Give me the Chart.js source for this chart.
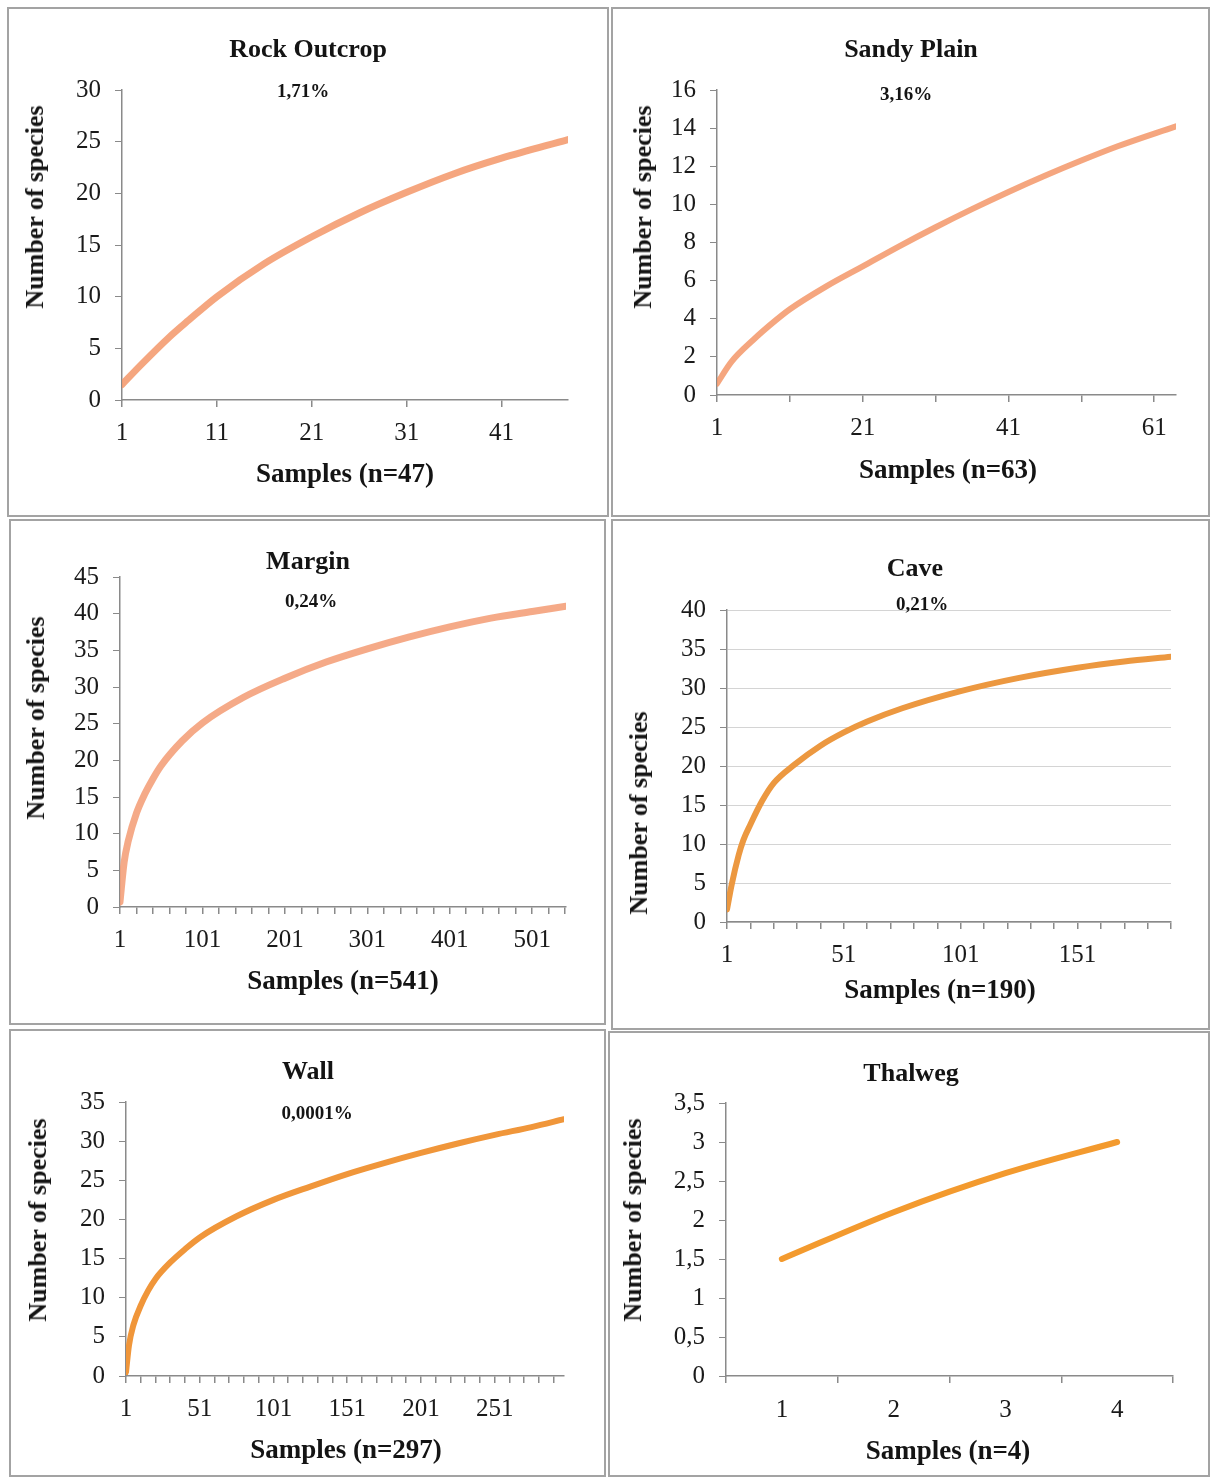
<!DOCTYPE html>
<html>
<head>
<meta charset="utf-8">
<script src="https://cdn.jsdelivr.net/npm/chart.js@4.4.0/dist/chart.umd.min.js"></script>
<style>
body { margin: 0; width: 1210px; height: 1477px; position: relative; background: #fff; overflow: hidden; font-family: "Liberation Serif", serif; color: #141414; }
.box { position: absolute; border: 2px solid #a3a3a3; box-sizing: border-box; }
canvas { position: absolute; }
.lbl { position: absolute; font-weight: bold; white-space: nowrap; transform: translate(-50%, -50%); }
.title { font-size: 26px; }
.pct { font-size: 19px; }
.xt { font-size: 27px; }
.yt { font-size: 26px; transform: translate(-50%, -50%) rotate(-90deg); }
</style>
</head>
<body>
<script>
// Rock Outcrop (n=47)
const rockSamples = [1, 3, 6, 8, 11, 16, 21, 26, 31, 36, 41, 48];
const rockSpecies = [1.5, 3.4, 6.1, 7.7, 10.0, 13.2, 15.8, 18.1, 20.1, 21.9, 23.4, 25.2];

// Sandy Plain (n=63)
const sandySamples = [1, 3, 6, 9, 11, 16, 21, 26, 31, 36, 41, 46, 51, 56, 64];
const sandySpecies = [0.6, 1.75, 2.9, 3.9, 4.5, 5.7, 6.75, 7.8, 8.8, 9.75, 10.65, 11.5, 12.3, 13.05, 14.1];

// Margin (n=541)
const marginSamples = [1, 6, 11, 21, 31, 41, 51, 76, 101, 151, 201, 251, 301, 351, 401, 451, 501, 542];
const marginSpecies = [0.7, 6.1, 9.0, 12.8, 15.4, 17.5, 19.3, 22.6, 25.1, 28.6, 31.2, 33.4, 35.2, 36.8, 38.2, 39.4, 40.3, 41.0];

// Cave (n=190)
const caveSamples = [1, 3, 6, 8, 11, 16, 21, 30, 41, 51, 61, 76, 101, 126, 151, 171, 191];
const caveSpecies = [1.6, 4.8, 8.6, 10.5, 12.5, 15.5, 17.8, 20.2, 22.6, 24.3, 25.7, 27.4, 29.6, 31.3, 32.6, 33.4, 34.0];

// Wall (n=297)
const wallSamples = [1, 3, 6, 11, 16, 21, 31, 41, 51, 76, 101, 126, 151, 176, 201, 226, 251, 276, 298];
const wallSpecies = [0.5, 3.9, 6.5, 9.0, 10.9, 12.4, 14.5, 16.2, 17.7, 20.4, 22.5, 24.2, 25.8, 27.2, 28.5, 29.7, 30.8, 31.8, 32.8];

// Thalweg (n=4)
const thalwegLabels = ['1', '2', '3', '4'];
const thalwegSpecies = [1.5, 2.1, 2.6, 3.0];

// Texts
const titles = ['Rock Outcrop', 'Sandy Plain', 'Margin', 'Cave', 'Wall', 'Thalweg'];
const percents = ['1,71%', '3,16%', '0,24%', '0,21%', '0,0001%', ''];
const xTitles = ['Samples (n=47)', 'Samples (n=63)', 'Samples (n=541)', 'Samples (n=190)', 'Samples (n=297)', 'Samples (n=4)'];
const yTitle = 'Number of species';

function range(start, end, step) {
    const out = [];
    for (let v = start; v <= end; v += step) out.push(v);
    return out;
}

// layout of each panel: box = border rect, plot = [axisX, topY, rightX, axisY]
const panels = [
    { box: [7, 7, 609, 517], plot: [122, 90, 568, 400], xs: rockSamples, ys: rockSpecies, xMax: 48,
      xTicks: range(1, 41, 10), xLabels: range(1, 41, 10), yMax: 30, yStep: 5,
      color: 'rgba(243,150,105,0.85)', width: 7, titlePos: [308, 49], pctPos: [303, 91], xtPos: [345, 473], ytPos: [35, 207] },
    { box: [611, 7, 1210, 517], plot: [717, 90, 1176, 395], xs: sandySamples, ys: sandySpecies, xMax: 64,
      xTicks: range(1, 61, 10), xLabels: range(1, 61, 20), yMax: 16, yStep: 2,
      color: 'rgba(243,150,105,0.85)', width: 6, titlePos: [911, 49], pctPos: [906, 94], xtPos: [948, 469], ytPos: [643, 207] },
    { box: [9, 519, 606, 1025], plot: [120, 577, 566, 907], xs: marginSamples, ys: marginSpecies, xMax: 542,
      xTicks: range(1, 541, 20), xLabels: range(1, 501, 100), yMax: 45, yStep: 5,
      color: 'rgba(243,155,115,0.85)', width: 7, titlePos: [308, 561], pctPos: [311, 601], xtPos: [343, 980], ytPos: [36, 718] },
    { box: [611, 519, 1210, 1030], plot: [727, 610, 1171, 922], xs: caveSamples, ys: caveSpecies, xMax: 191,
      xTicks: range(1, 191, 10), xLabels: range(1, 151, 50), yMax: 40, yStep: 5, grid: true,
      color: '#ec9840', width: 6, titlePos: [915, 568], pctPos: [922, 604], xtPos: [940, 989], ytPos: [639, 813] },
    { box: [9, 1029, 606, 1477], plot: [126, 1102, 564, 1376], xs: wallSamples, ys: wallSpecies, xMax: 298,
      xTicks: range(1, 291, 10), xLabels: range(1, 251, 50), yMax: 35, yStep: 5,
      color: '#f0963a', width: 6, titlePos: [308, 1071], pctPos: [317, 1113], xtPos: [346, 1449], ytPos: [38, 1220] },
    { box: [608, 1031, 1210, 1477], plot: [726, 1103, 1173, 1376], categories: thalwegLabels, ys: thalwegSpecies,
      yMax: 3.5, yStep: 0.5,
      color: '#f39a2e', width: 6, titlePos: [911, 1073], pctPos: null, xtPos: [948, 1450], ytPos: [633, 1220] }
];

const tickFont = { family: 'Liberation Serif', size: 25 };
const axisColor = '#8a8a8a';

function addText(cls, text, pos) {
    const d = document.createElement('div');
    d.className = 'lbl ' + cls;
    d.textContent = text;
    d.style.left = pos[0] + 'px';
    d.style.top = pos[1] + 'px';
    document.body.appendChild(d);
}

panels.forEach((p, i) => {
    const [l, t, r, b] = p.box;
    const [x0, y0, x1, y1] = p.plot;

    const box = document.createElement('div');
    box.className = 'box';
    box.style.left = l + 'px';
    box.style.top = t + 'px';
    box.style.width = (r - l) + 'px';
    box.style.height = (b - t) + 'px';
    document.body.appendChild(box);

    const canvas = document.createElement('canvas');
    canvas.width = r - l;
    canvas.height = b - t;
    canvas.style.left = l + 'px';
    canvas.style.top = t + 'px';
    document.body.appendChild(canvas);

    let xScale, data;
    if (p.categories) {
        data = { labels: p.categories, datasets: [{ data: p.ys }] };
        xScale = {
            type: 'category',
            offset: true,
            grid: { offset: true, drawOnChartArea: false, tickLength: 7, color: axisColor, lineWidth: 1.5 },
            border: { color: axisColor, width: 1.5 },
            ticks: { font: tickFont, color: '#1a1a1a', padding: 12, maxRotation: 0 }
        };
    } else {
        data = { datasets: [{ data: p.xs.map((x, k) => ({ x: x, y: p.ys[k] })) }] };
        xScale = {
            type: 'linear',
            min: 1,
            max: p.xMax,
            afterBuildTicks: s => { s.ticks = p.xTicks.map(v => ({ value: v })); },
            grid: { drawOnChartArea: false, tickLength: 7, color: axisColor, lineWidth: 1.5 },
            border: { color: axisColor, width: 1.5 },
            ticks: {
                font: tickFont, color: '#1a1a1a', padding: 11, maxRotation: 0, autoSkip: false,
                callback: v => p.xLabels.includes(v) ? String(v) : ''
            }
        };
    }
    xScale.afterFit = s => { s.height = b - y1; };

    data.datasets[0].borderColor = p.color;
    data.datasets[0].borderWidth = p.width;
    data.datasets[0].pointRadius = 0;
    data.datasets[0].cubicInterpolationMode = 'monotone';
    data.datasets[0].borderCapStyle = 'round';

    new Chart(canvas, {
        type: 'line',
        data: data,
        options: {
            responsive: false,
            animation: false,
            devicePixelRatio: 1,
            layout: { padding: { left: 0, top: y0 - t, right: r - x1, bottom: 0 } },
            plugins: { legend: { display: false }, tooltip: { enabled: false } },
            scales: {
                x: xScale,
                y: {
                    min: 0,
                    max: p.yMax,
                    afterFit: s => { s.width = x0 - l; },
                    grid: {
                        drawOnChartArea: !!p.grid, color: '#d4d4d4', lineWidth: 1,
                        tickColor: axisColor, tickLength: 7
                    },
                    border: { color: axisColor, width: 1.5 },
                    ticks: {
                        stepSize: p.yStep, font: tickFont, color: '#1a1a1a', padding: 14,
                        callback: v => String(v).replace('.', ',')
                    }
                }
            }
        }
    });

    addText('title', titles[i], p.titlePos);
    if (p.pctPos) addText('pct', percents[i], p.pctPos);
    addText('xt', xTitles[i], p.xtPos);
    addText('yt', yTitle, p.ytPos);
});
</script>
</body>
</html>
